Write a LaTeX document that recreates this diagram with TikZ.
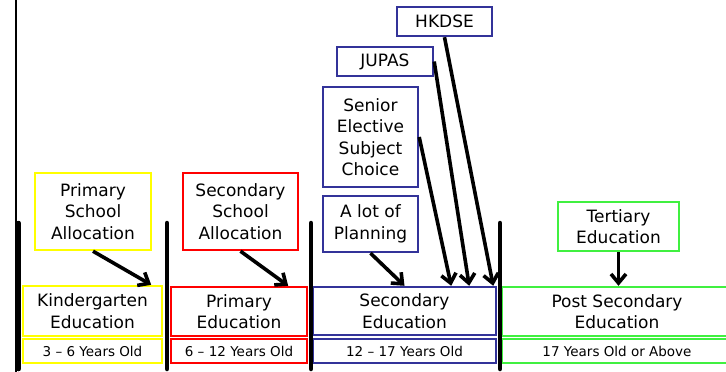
\documentclass[tikz,border=0pt]{standalone}
\usepackage{fontspec}
\setmainfont{DejaVu Sans}
\usetikzlibrary{arrows.meta}
\definecolor{cyel}{RGB}{255,255,0}
\definecolor{cred}{RGB}{255,0,0}
\definecolor{cblue}{RGB}{51,51,153}
\definecolor{cgreen}{RGB}{64,240,64}
\tikzset{
  box/.style={draw, line width=2.4pt, align=center, inner sep=0pt, font=\fontsize{17}{21.5}\selectfont},
  agebox/.style={draw, line width=2.4pt, align=center, inner sep=0pt, font=\fontsize{13.5}{15}\selectfont},
  arr/.style={line width=3.6pt, -{Straight Barb[length=9pt,width=15pt,line width=3.6pt]}},
  sep/.style={line width=4.5pt, line cap=round},
}
\begin{document}
\begin{tikzpicture}[x=1pt,y=-1pt]
\useasboundingbox (0,0) rectangle (726,372);
\clip (0,0) rectangle (726,372);
% Kindergarten column
\node[box, cyel, text=black, minimum width=116, minimum height=77] (psa) at (93,211.5) {Primary\\School\\Allocation};
\node[box, cyel, text=black, minimum width=139, minimum height=50] (kg) at (92.5,311) {Kindergarten\\Education};
\node[agebox, cyel, text=black, minimum width=139, minimum height=24] (kga) at (92.5,351) {3 – 6 Years Old};
% Primary column
\node[box, cred, text=black, minimum width=115, minimum height=77] (ssa) at (240.5,211.5) {Secondary\\School\\Allocation};
\node[box, cred, text=black, minimum width=136, minimum height=49] (pe) at (239,311.5) {Primary\\Education};
\node[agebox, cred, text=black, minimum width=136, minimum height=24] (pea) at (239,351) {6 – 12 Years Old};
% Secondary column
\node[box, cblue, text=black, minimum width=95, minimum height=29] (hk) at (444.5,21.5) {HKDSE};
\node[box, cblue, text=black, minimum width=96, minimum height=29] (ju) at (385,61.5) {JUPAS};
\node[box, cblue, text=black, minimum width=95, minimum height=100] (se) at (370.5,137) {Senior\\Elective\\Subject\\Choice};
\node[box, cblue, text=black, minimum width=95, minimum height=56] (lp) at (370.5,224) {A lot of\\Planning};
\node[box, cblue, text=black, minimum width=183, minimum height=48] (sec) at (404.5,311) {Secondary\\Education};
\node[agebox, cblue, text=black, minimum width=183, minimum height=24] (seca) at (404.5,351) {12 – 17 Years Old};
% Post secondary column
\node[box, cgreen, text=black, minimum width=121, minimum height=49] (te) at (618.5,226.5) {Tertiary\\Education};
\node[box, cgreen, text=black, minimum width=230, minimum height=49] (ps) at (617,311.5) {Post Secondary\\Education};
\node[agebox, cgreen, text=black, minimum width=230, minimum height=24] (psa2) at (617,351) {17 Years Old or Above};
% separators
\coordinate (l0a) at (16,0); \coordinate (l0b) at (16,372);
\coordinate (l1a) at (18.5,223); \coordinate (l1b) at (18.5,369);
\coordinate (l2a) at (167,223); \coordinate (l2b) at (167,369);
\coordinate (l3a) at (311,223); \coordinate (l3b) at (311,369);
\coordinate (l4a) at (500,223); \coordinate (l4b) at (500,369);
\draw[line width=1.8pt] (l0a) -- (l0b);
\draw[sep] (l1a) -- (l1b);
\draw[sep] (l2a) -- (l2b);
\draw[sep] (l3a) -- (l3b);
\draw[sep] (l4a) -- (l4b);
% arrows
\draw[arr] (psa.south) -- ([xshift=-12pt]kg.north east);
\draw[arr] (ssa.south) -- ([xshift=-20pt]pe.north east);
\draw[arr] (lp.south) -- (sec.north);
\draw[arr] (se.east) -- ([xshift=-46pt]sec.north east);
\draw[arr] (ju.east) -- ([xshift=-28pt]sec.north east);
\draw[arr] (hk.south) -- ([xshift=-4pt]sec.north east);
\draw[arr] (te.south) -- (te.south |- ps.north);
\end{tikzpicture}
\end{document}
